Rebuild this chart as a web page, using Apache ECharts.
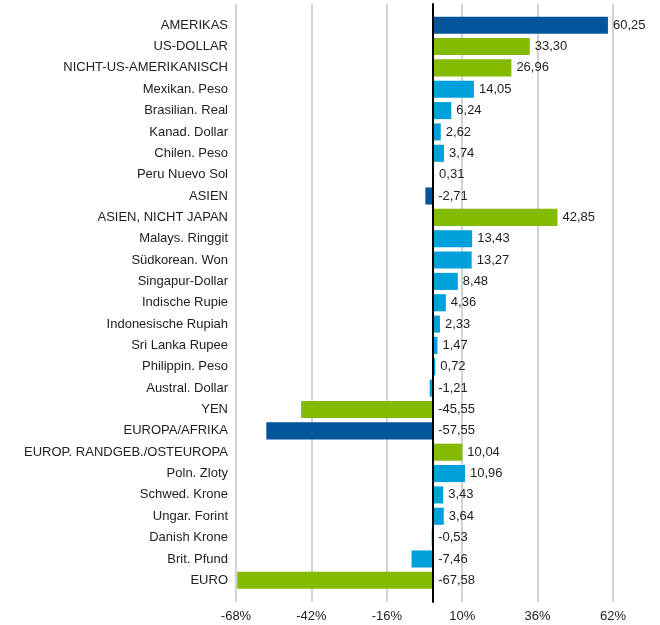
<!DOCTYPE html>
<html>
<head>
<meta charset="utf-8">
<script src="https://cdn.jsdelivr.net/npm/echarts@6/dist/echarts.min.js"></script>
<style>
html,body{margin:0;padding:0;background:#fff;}
#chart{width:660px;height:625px;}
</style>
</head>
<body>
<div id="chart"></div>
<script>
const categories = [
  'AMERIKAS','US-DOLLAR','NICHT-US-AMERIKANISCH','Mexikan. Peso','Brasilian. Real',
  'Kanad. Dollar','Chilen. Peso','Peru Nuevo Sol','ASIEN','ASIEN, NICHT JAPAN',
  'Malays. Ringgit','Südkorean. Won','Singapur-Dollar','Indische Rupie','Indonesische Rupiah',
  'Sri Lanka Rupee','Philippin. Peso','Austral. Dollar','YEN','EUROPA/AFRIKA',
  'EUROP. RANDGEB./OSTEUROPA','Poln. Zloty','Schwed. Krone','Ungar. Forint','Danish Krone',
  'Brit. Pfund','EURO'
];
const values = [
  60.25, 33.30, 26.96, 14.05, 6.24,
  2.62, 3.74, 0.31, -2.71, 42.85,
  13.43, 13.27, 8.48, 4.36, 2.33,
  1.47, 0.72, -1.21, -45.55, -57.55,
  10.04, 10.96, 3.43, 3.64, -0.53,
  -7.46, -67.58
];
// group: 'region' (dark blue), 'group' (green), 'currency' (light blue)
const groups = [
  'region','group','group','currency','currency',
  'currency','currency','currency','region','group',
  'currency','currency','currency','currency','currency',
  'currency','currency','currency','group','region',
  'group','currency','currency','currency','currency',
  'currency','group'
];
const xTicks = [-68, -42, -16, 10, 36, 62];

const groupColors = { region: '#02559a', group: '#84bb00', currency: '#00a0dc' };
const xMin = xTicks[0], xMax = xTicks[xTicks.length - 1], xInterval = xTicks[1] - xTicks[0];

const chart = echarts.init(document.getElementById('chart'), null, { renderer: 'canvas' });
const font = '"Liberation Sans", Arial, sans-serif';
const fs = 13;

chart.setOption({
  animation: false,
  backgroundColor: '#fff',
  textStyle: { fontFamily: font },
  grid: [
    { left: 236, right: 47, top: 14.5, bottom: 34, containLabel: false, outerBoundsMode: 'none' },
    { left: 236, right: 47, top: 4, bottom: 23, containLabel: false, outerBoundsMode: 'none' }
  ],
  xAxis: [
    { type: 'value', gridIndex: 0, min: xMin, max: xMax, interval: xInterval, show: false, splitLine: { show: false } },
    {
      type: 'value', gridIndex: 1, min: xMin, max: xMax, interval: xInterval,
      axisLine: { show: false }, axisTick: { show: false },
      splitLine: { show: true, lineStyle: { color: '#d2d2d2', width: 2 } },
      axisLabel: { formatter: '{value}%', fontSize: fs, color: '#222', fontFamily: font, margin: 8 }
    }
  ],
  yAxis: [
    {
      type: 'category', gridIndex: 0, data: categories, inverse: true,
      axisLine: { show: false }, axisTick: { show: false }, splitLine: { show: false },
      axisLabel: { fontSize: fs, color: '#222', fontFamily: font, margin: 8 }
    },
    {
      type: 'value', gridIndex: 1, min: 0, max: 1, z: 5,
      axisLine: { show: true, onZero: true, lineStyle: { color: '#000', width: 2 } },
      axisTick: { show: false }, axisLabel: { show: false }, splitLine: { show: false }
    }
  ],
  series: [{
    type: 'bar',
    xAxisIndex: 0, yAxisIndex: 0,
    barCategoryGap: '20%',
    data: values.map((v, i) => ({ value: v, itemStyle: { color: groupColors[groups[i]] } })),
    label: {
      show: true, position: 'right', distance: 5,
      fontSize: fs, color: '#222', fontFamily: font,
      formatter: p => p.value.toFixed(2).replace('.', ',')
    }
  }]
});
</script>
</body>
</html>
